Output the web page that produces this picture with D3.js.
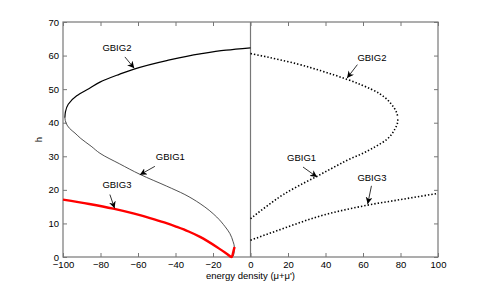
<!DOCTYPE html>
<html>
<head>
<meta charset="utf-8">
<script src="https://cdn.jsdelivr.net/npm/d3@7"></script>
<style>
  body { margin: 0; background: #fff; }
  text { font-family: "Liberation Sans", Arial, Helvetica, sans-serif; }
</style>
</head>
<body>
<div id="viz"></div>
<script>
// curves: [energy density, h]
const gbig2Left = [[-99, 41.5], [-98.7, 43.2], [-97.2, 45.5], [-92.7, 48.0], [-86, 50.2], [-80.3, 52.1],
  [-70, 54.4], [-62.5, 55.9], [-44.7, 58.5], [-26.9, 60.5], [-13, 61.6], [0, 62.3]];
const gbig1Left = [[-99, 41.5], [-98.3, 39.8], [-96.5, 38.3], [-93.6, 36.9], [-90.5, 35.3], [-85, 33.0],
  [-80.3, 30.9], [-70, 27.8], [-58.9, 24.6], [-44.7, 21.1], [-35, 18.6], [-26.9, 15.9], [-18, 11.9],
  [-13.5, 9], [-11, 7.0], [-9.3, 4.6], [-8.6, 3.0], [-8.7, 1.5], [-9.2, 0.3]];
const gbig3Left = [[-100, 17.1], [-86, 15.8], [-73.2, 14.4], [-62, 12.9], [-53.6, 11.6], [-46, 10.3],
  [-39.4, 9.0], [-33, 7.6], [-26.9, 6.0], [-18, 3.0], [-12.7, 1.0], [-10, 0], [-9.2, 1.5], [-8.5, 3]];
const gbig2Right = [[0, 60.6], [12, 59.2], [25, 57.5], [38, 55.4], [51, 53.0], [59, 51.3],
  [69, 48.6], [75.3, 45.4], [78, 42.9], [78.6, 41.5]];
const gbig1Right = [[0, 11.4], [8.6, 15.1], [17.5, 18.6], [26, 21.3], [35.3, 24.0], [44, 26.6],
  [53, 29.2], [58.4, 30.5], [66.4, 32.8], [72.6, 35.0], [77.1, 38.2], [78.5, 40.3], [78.6, 41.5]];
const gbig3Right = [[0, 5.0], [17.5, 8.5], [35.3, 11.9], [62, 15.4], [80, 17.1], [99.5, 18.9]];

const xTicks = [-100, -80, -60, -40, -20, 0, 20, 40, 60, 80, 100];
const yTicks = [0, 10, 20, 30, 40, 50, 60, 70];

// label text, text anchor point [x, h], arrow start and arrow tip [x, h]
const labels = [
  { text: "GBIG2", at: [-79, 61.5], from: [-67, 59.6], to: [-62, 56.2] },
  { text: "GBIG2", at: [57, 58.5], from: [57, 57.3], to: [51.5, 53.3] },
  { text: "GBIG1", at: [-50.5, 28.8], from: [-51, 27], to: [-59, 24.5] },
  { text: "GBIG3", at: [-79, 20.5], from: [-75, 18.6], to: [-72.5, 14.5] },
  { text: "GBIG1", at: [19.5, 28.6], from: [28, 26.8], to: [35.5, 23.8] },
  { text: "GBIG3", at: [57, 22.7], from: [64.5, 21.2], to: [62.5, 15.8] }
];

const width = 484;
const height = 289;
const margin = { left: 63, right: 46, top: 22, bottom: 32 };

const svg = d3.select('#viz').append('svg')
  .attr('width', width)
  .attr('height', height);

const x = d3.scaleLinear().domain([-100, 100]).range([margin.left, width - margin.right]);
const y = d3.scaleLinear().domain([0, 70]).range([height - margin.bottom, margin.top]);

svg.append("defs").append("marker")
  .attr("id", "arrow")
  .attr("viewBox", "0 0 10 10")
  .attr("refX", 10)
  .attr("refY", 5)
  .attr("markerWidth", 7)
  .attr("markerHeight", 7)
  .attr("markerUnits", "userSpaceOnUse")
  .attr("orient", "auto")
  .append("path")
  .attr("d", "M0,0 L10,5 L0,10 L3,5 Z")
  .attr("fill", "#000");

// axes with ticks pointing inward
const axisColor = "#777";
function styleAxis(g) {
  g.select(".domain").remove();
  g.selectAll(".tick line").attr("stroke", axisColor);
  g.selectAll(".tick text").attr("fill", "#000").style("font-size", "9.5px")
    .style("font-family", '"Liberation Sans", Arial, sans-serif');
}

svg.append("g")
  .attr("transform", `translate(0,${y(0)})`)
  .call(d3.axisBottom(x).tickValues(xTicks).tickSize(-4).tickPadding(4))
  .call(styleAxis);
svg.append("g")
  .attr("transform", `translate(0,${y(70)})`)
  .call(d3.axisTop(x).tickValues(xTicks).tickSize(-4).tickFormat(""))
  .call(styleAxis);
svg.append("g")
  .attr("transform", `translate(${x(-100)},0)`)
  .call(d3.axisLeft(y).tickValues(yTicks).tickSize(-4).tickPadding(4))
  .call(styleAxis);
svg.append("g")
  .attr("transform", `translate(${x(100)},0)`)
  .call(d3.axisRight(y).tickValues(yTicks).tickSize(-4).tickFormat(""))
  .call(styleAxis);

svg.append("rect")
  .attr("x", x(-100))
  .attr("y", y(70))
  .attr("width", x(100) - x(-100))
  .attr("height", y(0) - y(70))
  .attr("fill", "none")
  .attr("stroke", axisColor)
  .attr("stroke-width", 1.2);

// zero line
svg.append("line")
  .attr("x1", x(0)).attr("x2", x(0))
  .attr("y1", y(0)).attr("y2", y(70))
  .attr("stroke", axisColor)
  .attr("stroke-width", 1.2);

const lineY = d3.line()
  .x(d => x(d[0]))
  .y(d => y(d[1]))
  .curve(d3.curveMonotoneY);
const lineX = d3.line()
  .x(d => x(d[0]))
  .y(d => y(d[1]))
  .curve(d3.curveMonotoneX);

function drawCurve(gen, data, color, w, dash) {
  const p = svg.append("path")
    .attr("d", gen(data))
    .attr("fill", "none")
    .attr("stroke", color)
    .attr("stroke-width", w);
  if (dash) p.attr("stroke-dasharray", dash);
}

drawCurve(lineY, gbig1Left, "#333", 0.85);
drawCurve(lineY, gbig2Left, "#000", 1.2);
drawCurve(lineX, gbig3Left, "#f00", 2.4);
drawCurve(lineY, gbig2Right, "#000", 1.6, "1.4,2");
drawCurve(lineY, gbig1Right, "#000", 1.6, "1.4,2");
drawCurve(lineX, gbig3Right, "#000", 1.6, "1.4,2");

// annotations
labels.forEach(l => {
  svg.append("text")
    .attr("x", x(l.at[0]))
    .attr("y", y(l.at[1]))
    .attr("text-anchor", "start")
    .style("font-size", "9.5px")
    .text(l.text);
  svg.append("line")
    .attr("x1", x(l.from[0])).attr("y1", y(l.from[1]))
    .attr("x2", x(l.to[0])).attr("y2", y(l.to[1]))
    .attr("stroke", "#000")
    .attr("stroke-width", 0.8)
    .attr("marker-end", "url(#arrow)");
});

svg.append("text")
  .attr("x", x(0))
  .attr("y", 279)
  .attr("text-anchor", "middle")
  .style("font-size", "9.5px")
  .text("energy density (\u03bc+\u03bc')");

svg.append("text")
  .attr("transform", `translate(42,${y(35)}) rotate(-90)`)
  .attr("text-anchor", "middle")
  .style("font-size", "9.5px")
  .text("h");
</script>
</body>
</html>
